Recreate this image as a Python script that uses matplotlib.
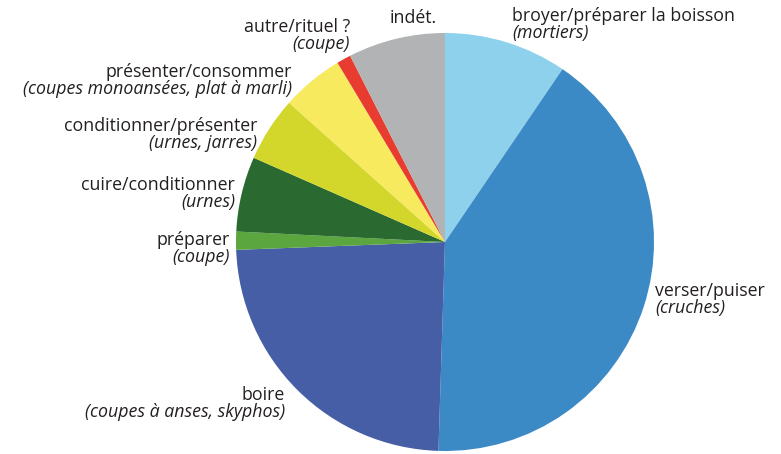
import matplotlib
matplotlib.use("Agg")
import matplotlib.pyplot as plt

# parts (clockwise from 12 o'clock), %
functions = ["broyer/préparer la boisson", "verser/puiser", "boire", "préparer",
             "cuire/conditionner", "conditionner/présenter", "présenter/consommer",
             "autre/rituel ?", "indét."]
vessels = ["(mortiers)", "(cruches)", "(coupes à anses, skyphos)", "(coupe)",
           "(urnes)", "(urnes, jarres)", "(coupes monoansées, plat à marli)",
           "(coupe)", ""]
values = [9.5, 41.0, 23.9, 1.4, 5.8, 5.0, 4.8, 1.1, 7.5]
colors = ["#8ED1EC", "#3B8AC6", "#465EA5", "#5BA63E", "#2A6A30",
          "#D3D72C", "#F8EA5E", "#E73C2F", "#B1B3B5"]

plt.rcParams["font.family"] = ["Open Sans", "DejaVu Sans"]

W, H = 781, 454
fig = plt.figure(figsize=(W / 100, H / 100), dpi=100)
ax = fig.add_axes([0, 0, 1, 1])
ax.pie(values, colors=colors, startangle=90, counterclock=False,
       center=(445, H - 242), radius=209)
ax.set_xlim(0, W)
ax.set_ylim(0, H)
ax.axis("off")

# label anchors in pixels: x, y of first line, alignment
label_pos = [(512, 16, "left"), (655, 291, "left"), (285, 395, "right"),
             (230, 240, "right"), (235, 185, "right"), (257, 126, "right"),
             (292, 72, "right"), (350, 27, "right"), (413, 18, "center")]

fs = 12.8
for (x, y, ha), f, v in zip(label_pos, functions, vessels):
    ax.text(x, H - y, f, ha=ha, va="center", fontsize=fs, color="#231F20")
    if v:
        ax.text(x, H - y - 17, v, ha=ha, va="center", fontsize=fs,
                style="italic", color="#231F20")

fig.savefig("out.png", dpi=100)
